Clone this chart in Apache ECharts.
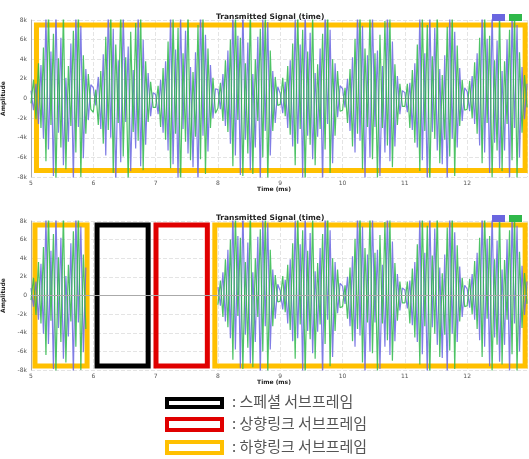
<!DOCTYPE html>
<html><head><meta charset="utf-8">
<script src="https://cdn.jsdelivr.net/npm/echarts@6/dist/echarts.min.js"></script>
<style>html,body{margin:0;padding:0;background:#fff}#c{width:529px;height:459px}</style>
</head><body><div id="c"></div>
<script>
// Sample spacing (ms) and start time
const tStart = 5.0;
const tStep = 0.04;
const xTicks = [5, 6, 7, 8, 9, 10, 11, 12];
const yTicks = [-8, -6, -4, -2, 0, 2, 4, 6, 8]; // in k
const seriesNames = ['I', 'Q'];
// Blue channel amplitude (k), read per 1 ms block
const blueVals = [
 0.8,-1.2,1.5,-2.6,3.4,-4.1,8.5,-5.2,4.8,-7.9,9.0,-3.5,6.2,-6.8,2.1,-4.4,5.6,-8.6,8.8,-2.9,7.4,-6.1,3.0,-2.2,1.4,
 1.1,-0.7,2.2,-3.1,4.5,-5.8,9.2,-4.0,7.1,-8.8,3.9,-6.5,8.7,-2.4,5.3,-7.4,2.9,-5.1,9.0,-6.9,6.0,-4.7,2.6,-1.8,0.6,
 0.4,-1.6,1.9,-3.5,3.8,-5.3,8.8,-6.7,5.0,-8.4,8.6,-3.1,6.9,-5.6,3.2,-7.0,4.7,-8.9,9.3,-3.8,6.5,-5.4,3.4,-2.0,1.0,
 0.9,-1.1,2.5,-2.8,4.9,-4.6,9.1,-5.8,6.4,-7.8,9.4,-4.2,5.7,-7.3,2.5,-5.0,6.3,-8.7,8.4,-3.3,7.8,-5.8,2.8,-2.5,1.2,
 0.5,-1.5,1.7,-3.0,3.9,-4.9,8.2,-4.6,5.5,-8.1,9.2,-3.8,6.7,-6.2,2.6,-3.9,5.1,-8.8,9.1,-2.6,7.0,-6.6,3.6,-1.9,1.3,
 1.0,-0.9,2.0,-3.3,4.2,-5.5,9.0,-4.3,7.4,-8.5,4.4,-6.0,8.5,-2.9,4.9,-7.9,3.3,-5.5,9.2,-6.4,5.8,-4.9,2.3,-1.6,0.8,
 0.6,-1.4,1.6,-3.2,3.6,-5.0,8.6,-6.3,4.6,-8.6,8.9,-3.4,7.2,-5.3,3.0,-6.7,4.4,-8.5,9.0,-4.1,6.8,-5.0,3.1,-2.3,1.1,
 0.7,-1.3,2.3,-2.6,4.6,-4.8,8.9,-5.5,6.1,-7.6,9.1,-4.5,5.9,-7.1,2.8,-5.3,6.0,-8.3,8.7,-3.0,7.5,-6.0,3.2,-2.1,1.5
];
// Green channel amplitude (k)
const greenVals = [
 -0.5,1.9,-2.1,3.6,-3.0,5.2,-6.4,9.1,-2.7,6.6,-8.3,4.1,-5.0,8.9,-7.2,3.3,-2.8,6.9,-5.5,9.2,-8.0,4.4,-3.6,2.5,-1.1,
 -1.4,0.9,-2.7,2.8,-4.6,6.3,-3.2,8.9,-7.6,5.5,-2.5,9.1,-5.9,4.2,-8.5,6.8,-3.4,7.7,-4.3,8.6,-7.3,3.8,-2.4,1.7,-0.9,
 -0.9,1.3,-2.9,3.1,-4.2,5.8,-7.1,8.4,-3.6,7.2,-8.9,4.6,-4.4,9.0,-6.3,2.7,-3.9,7.5,-6.2,8.8,-7.7,5.1,-3.0,2.1,-1.5,
 -1.0,1.6,-2.3,3.9,-3.4,6.0,-6.9,8.7,-2.2,6.2,-7.9,3.6,-5.6,9.3,-7.7,4.0,-2.3,7.1,-6.0,9.0,-8.4,4.9,-3.3,2.2,-0.7,
 -0.6,2.1,-1.8,3.3,-3.7,5.6,-6.8,9.0,-3.1,7.0,-8.6,4.8,-4.7,8.5,-6.8,3.5,-3.1,6.6,-5.2,9.4,-7.6,4.0,-3.8,2.8,-1.3,
 -1.2,1.1,-2.5,3.0,-4.9,6.1,-3.6,9.2,-7.2,5.1,-2.9,8.7,-6.2,4.6,-8.2,6.5,-3.0,7.9,-4.8,8.3,-7.0,3.5,-2.7,1.5,-0.8,
 -0.8,1.5,-3.0,2.9,-4.5,5.5,-7.4,8.6,-3.3,7.5,-8.7,4.3,-4.1,9.1,-6.6,2.4,-4.2,7.3,-5.9,8.9,-7.9,5.4,-2.8,1.9,-1.2,
 -1.1,1.8,-2.0,3.7,-3.6,6.2,-6.6,8.8,-2.5,6.4,-8.1,3.9,-5.3,9.0,-7.4,3.8,-2.6,7.0,-6.3,9.1,-8.2,4.7,-3.5,2.4,-0.9
];
// Bottom chart: no downlink signal from 5.9 ms to 8.0 ms
const blankStart = 5.9;
const blankEnd = 7.98;
// Subframe boxes (data coords: ms, k)
const topBoxes = [{x0:5.088, x1:12.93, y0:7.5, y1:-7.34, color:'#ffc000'}];
const bottomBoxes = [
 {x0:5.064, x1:5.90, y0:7.57, y1:-7.57, color:'#ffc000'},
 {x0:6.06, x1:6.88, y0:7.57, y1:-7.57, color:'#000000'},
 {x0:7.006, x1:7.83, y0:7.57, y1:-7.57, color:'#e00000'},
 {x0:7.95, x1:12.93, y0:7.57, y1:-7.57, color:'#ffc000'}
];
const legendItems = [
 {color:'#000000', text:': 스페셜 서브프레임'},
 {color:'#e00000', text:': 상향링크 서브프레임'},
 {color:'#ffc000', text:': 하향링크 서브프레임'}
];
const legendLayout = [
 {boxTop:399, boxH:8, textMid:403},
 {boxTop:419, boxH:11, textMid:425},
 {boxTop:442, boxH:11, textMid:448}
];

const chart = echarts.init(document.getElementById('c'));
const toPts = (vals, blank) => vals.map((v, i) => {
  const t = +(tStart + i * tStep).toFixed(3);
  if (blank && t > blankStart && t < blankEnd) return [t, null];
  return [t, v];
});
const colors = ['#6a66e0', '#2fb84a'];
const grids = [
  {left:31, right:2, top:20, height:157, containLabel:false, outerBoundsMode:'none'},
  {left:31, right:2, top:221, height:149, containLabel:false, outerBoundsMode:'none'}
];
const xAxis = grids.map((g, i) => ({
  type:'value', gridIndex:i, min:5, max:12.96, interval:1,
  name:'Time (ms)', nameLocation:'middle', nameGap:9,
  nameTextStyle:{fontSize:6, fontWeight:'bold', color:'#222', fontFamily:'DejaVu Sans', padding:[0,10,0,0]},
  axisLine:{show:true, lineStyle:{color:'#aaa'}}, axisTick:{show:false},
  axisLabel:{fontSize:6, color:'#555', margin:3, showMaxLabel:false, fontFamily:'DejaVu Sans'},
  splitLine:{show:true, lineStyle:{color:'#e4e4e4', type:'dashed'}}
}));
const yAxis = grids.map((g, i) => ({
  type:'value', gridIndex:i, min:-8, max:8, interval:2,
  name:'Amplitude', nameLocation:'middle', nameRotate:90, nameGap:17,
  nameTextStyle:{fontSize:6, fontWeight:'bold', color:'#222', fontFamily:'DejaVu Sans'},
  axisLine:{show:true, lineStyle:{color:'#aaa'}}, axisTick:{show:false},
  axisLabel:{fontSize:6, color:'#555', margin:4, fontFamily:'DejaVu Sans',
    formatter: v => v === 0 ? '0' : v + 'k'},
  splitLine:{show:true, lineStyle:{color:'#e4e4e4', type:'dashed'}}
}));
const series = [];
[0, 1].forEach(gi => {
  [blueVals, greenVals].forEach((vals, k) => {
    series.push({
      type:'line', name:seriesNames[k], xAxisIndex:gi, yAxisIndex:gi,
      data: toPts(vals, gi === 1), showSymbol:false, symbol:'none', clip:true,
      lineStyle:{width:1.2, color:colors[k], opacity:0.85}, itemStyle:{color:colors[k]},
      silent:true, animation:false, connectNulls:false
    });
  });
  const boxes = gi === 0 ? topBoxes : bottomBoxes;
  series.push({
    type:'line', xAxisIndex:gi, yAxisIndex:gi, data:[], z:10, silent:true, animation:false,
    markArea:{silent:true, data: boxes.map(b => [
      {xAxis:b.x0, yAxis:b.y0, itemStyle:{color:'rgba(0,0,0,0)', borderColor:b.color, borderWidth:5}},
      {xAxis:b.x1, yAxis:b.y1}
    ])}
  });
  if (gi === 1) {
    series.push({
      type:'line', xAxisIndex:1, yAxisIndex:1, data:[], z:3, silent:true, animation:false,
      markLine:{silent:true, symbol:'none', label:{show:false},
        lineStyle:{color:'#aaa', width:1, type:'solid'}, data:[{yAxis:0}]}
    });
  }
});
const graphics = [];
legendItems.forEach((it, i) => {
  const L = legendLayout[i];
  graphics.push({type:'rect', left:165, top:L.boxTop - 2, shape:{width:55, height:L.boxH},
    style:{fill:'#fff', stroke:it.color, lineWidth:4}});
  graphics.push({type:'text', left:232, top:L.textMid - 9,
    style:{text:it.text, fill:'#555', font:'15px "Noto Sans CJK KR"'}});
});
chart.setOption({
  animation:false,
  title:[
    {text:'Transmitted Signal (time)', left:211, top:8, textStyle:{fontSize:7.5, fontWeight:'bold', color:'#222', fontFamily:'DejaVu Sans'}},
    {text:'Transmitted Signal (time)', left:211, top:209, textStyle:{fontSize:7.5, fontWeight:'bold', color:'#222', fontFamily:'DejaVu Sans'}}
  ],
  legend:[
    {right:2, top:9, itemWidth:13, itemHeight:7, itemGap:4, icon:'rect', formatter:()=>'', data:seriesNames, selectedMode:false},
    {right:2, top:210, itemWidth:13, itemHeight:7, itemGap:4, icon:'rect', formatter:()=>'', data:seriesNames, selectedMode:false}
  ],
  grid:grids, xAxis:xAxis, yAxis:yAxis, series:series, graphic:graphics
});
</script></body></html>
